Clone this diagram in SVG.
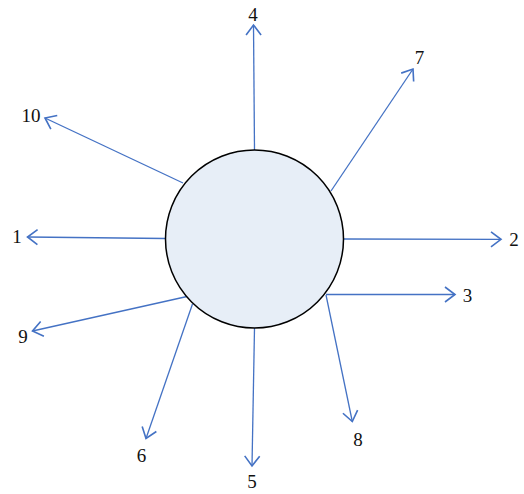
<svg xmlns="http://www.w3.org/2000/svg" width="524" height="494" viewBox="0 0 524 494">
<style>
.c line{stroke:#4472C4;stroke-width:1.3;fill:none;marker-end:url(#ah)}
.t{font-family:"Liberation Serif","Times New Roman",serif;font-size:19px;fill:#111;text-anchor:middle}
</style>
<defs>
<marker id="ah" markerUnits="userSpaceOnUse" markerWidth="20" markerHeight="20" viewBox="-10 -8 12 16" refX="0" refY="0" orient="auto">
<path d="M-8,-6 L0,0 L-8,6" fill="none" stroke="#4472C4" stroke-width="1.3"/>
</marker>
</defs>
<rect width="524" height="494" fill="#fff"/>
<g id="connectors" class="c">
<line x1="254.5" y1="150" x2="253.5" y2="25"/>
<line x1="331" y1="191" x2="413" y2="69"/>
<line x1="183" y1="183" x2="45" y2="118"/>
<line x1="165.5" y1="238.5" x2="27.5" y2="237"/>
<line x1="187" y1="296.5" x2="32.5" y2="331"/>
<line x1="192.5" y1="304" x2="146" y2="438.5"/>
<line x1="254.5" y1="328" x2="252" y2="466"/>
<line x1="326" y1="295" x2="352.3" y2="421.5"/>
<line x1="326" y1="294.5" x2="455" y2="294.5"/>
<line x1="343.5" y1="239" x2="501" y2="239.3"/>
</g>
<g id="hub"><circle cx="254.5" cy="239" r="89" fill="#E7EEF7" stroke="#000" stroke-width="1.5"/></g>
<g id="n1"><text class="t" x="17" y="243">1</text></g>
<g id="n2"><text class="t" x="514" y="246">2</text></g>
<g id="n3"><text class="t" x="467.5" y="302">3</text></g>
<g id="n4"><text class="t" x="253" y="21">4</text></g>
<g id="n5"><text class="t" x="252" y="488">5</text></g>
<g id="n6"><text class="t" x="141.5" y="462">6</text></g>
<g id="n7"><text class="t" x="419.5" y="64">7</text></g>
<g id="n8"><text class="t" x="358" y="445.5">8</text></g>
<g id="n9"><text class="t" x="23" y="343">9</text></g>
<g id="n10"><text class="t" x="31" y="122">10</text></g>
</svg>
